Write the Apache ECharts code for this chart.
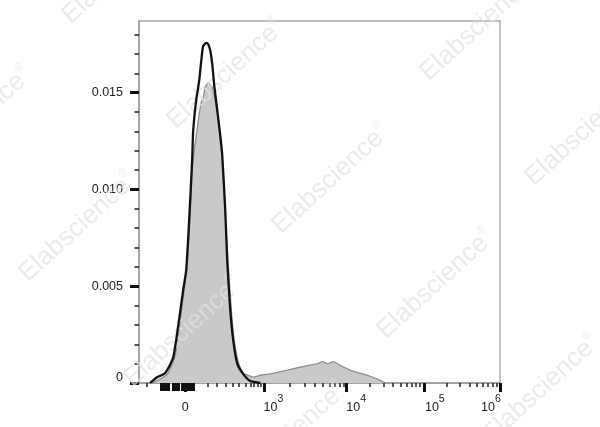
<!DOCTYPE html>
<html><head><meta charset="utf-8">
<script src="https://cdn.jsdelivr.net/npm/echarts@6/dist/echarts.min.js"></script>
<style>html,body{margin:0;padding:0;background:#fff}#c{width:600px;height:427px}</style>
</head><body><div id="c"></div>
<script>
// x values are in display units of the biexponential axis: 0 -> "0", 1 -> 10^3, ~2.05 -> 10^4, ~3.03 -> 10^5, 4 -> 10^6
const blackX = [-0.446,-0.357,-0.255,-0.153,-0.076,-0.025,0.013,0.051,0.089,0.102,0.140,0.178,0.204,0.229,0.268,0.293,0.318,0.344,0.369,0.408,0.446,0.471,0.510,0.535,0.573,0.611,0.662,0.739,0.828,0.955];
const blackY = [0,0.0003,0.0005,0.0013,0.0033,0.0048,0.0058,0.0084,0.0115,0.0130,0.0146,0.0156,0.0166,0.0174,0.01757,0.0175,0.0172,0.0165,0.0154,0.0141,0.0128,0.0118,0.0089,0.0063,0.0038,0.0022,0.0010,0.00046,0.0001,0];
const grayX = [-0.420,-0.318,-0.217,-0.127,-0.064,-0.013,0.025,0.064,0.089,0.115,0.166,0.204,0.229,0.255,0.293,0.318,0.344,0.382,0.408,0.446,0.471,0.510,0.548,0.586,0.624,0.675,0.739,0.803,0.866,0.955,1.121,1.338,1.554,1.682,1.745,1.809,1.885,1.975,2.140,2.318,2.446,2.548];
const grayY = [0,0.0002,0.0005,0.0014,0.0032,0.0048,0.0061,0.0086,0.0110,0.0120,0.0135,0.0145,0.0147,0.0153,0.0155,0.0154,0.0153,0.0146,0.0139,0.0125,0.0115,0.0087,0.0061,0.0038,0.0022,0.0011,0.0005,0.0004,0.0003,0.0004,0.0005,0.0007,0.0009,0.0010,0.0011,0.0010,0.0011,0.0009,0.0006,0.0004,0.0002,0];

const xMajorTicks = [0, 1.0, 2.051, 3.032, 4.0];
const xLabelPos = [0, 1.121, 2.172, 3.172, 3.885];
const xLabelText = ['{b|0}', '{b|10}{s|3}', '{b|10}{s|4}', '{b|10}{s|5}', '{b|10}{s|6}'];
const xMinorTicks = [-0.484, 0.293,0.408,0.510,0.599,0.675,0.764,0.828,0.866,0.917,0.955,
  1.334,1.516,1.643,1.745,1.834,1.898,1.962,2.013,
  2.344,2.522,2.637,2.739,2.815,2.879,2.930,2.981,
  3.325,3.490,3.618,3.707,3.783,3.847,3.911,3.955];
const xClusterTicks = [-0.305,-0.273,-0.241,-0.210,-0.152,-0.121,-0.089,-0.038,-0.006,0.025,0.070,0.102];

const yMajorTicks = [0, 0.005, 0.010, 0.015];
const yLabelPos = [0.0003, 0.005, 0.010, 0.015];
const yLabelText = ['0', '0.005', '0.010', '0.015'];
const yMinorTicks = [0.001,0.002,0.003,0.004,0.006,0.007,0.008,0.009,0.011,0.012,0.013,0.014,0.016,0.017,0.018];

const wmCenters = [[121,-31],[226,74],[331,179],[436,284],[541,389],[78,227],[-27,122],[183,332],[288,437],[479,26],[584,131]];

const FONT = 'Liberation Sans, Arial, sans-serif';
const xMin = -0.586, xMax = 4.0, yMin = 0, yMax = 0.0187;

function pairs(xs, ys){ return xs.map((x,i)=>[x, ys[i]]); }

const chart = echarts.init(document.getElementById('c'), null, {renderer:'canvas'});
const baseX = {type:'value', min:xMin, max:xMax, position:'bottom', splitLine:{show:false}};
const baseY = {type:'value', min:yMin, max:yMax, position:'left', splitLine:{show:false}};
chart.setOption({
  animation:false,
  backgroundColor:'#fff',
  grid:{left:139, right:100, top:21, bottom:44, show:true, borderColor:'#a8a8a8', borderWidth:1.3},
  xAxis:[
    Object.assign({}, baseX, {
      axisLine:{show:true, onZero:false, lineStyle:{color:'#999', width:1.5}},
      axisTick:{show:true, length:9, lineStyle:{color:'#111', width:3}, customValues:xMajorTicks},
      axisLabel:{show:true, margin:11, customValues:xLabelPos,
        formatter:(v,i)=>xLabelText[xLabelPos.indexOf(v)] || '',
        rich:{
          b:{fontSize:12.5, fontFamily:FONT, color:'#222', lineHeight:20, verticalAlign:'bottom'},
          s:{fontSize:10.5, fontFamily:FONT, color:'#222', lineHeight:20, verticalAlign:'top'}
        }}
    }),
    Object.assign({}, baseX, {
      axisLine:{show:false, onZero:false},
      axisTick:{show:true, length:4, lineStyle:{color:'#222', width:1.5}, customValues:xMinorTicks},
      axisLabel:{show:false}
    }),
    Object.assign({}, baseX, {
      axisLine:{show:false, onZero:false},
      axisTick:{show:true, length:8, lineStyle:{color:'#111', width:3}, customValues:xClusterTicks},
      axisLabel:{show:false}
    })
  ],
  yAxis:[
    Object.assign({}, baseY, {
      axisLine:{show:true, onZero:false, lineStyle:{color:'#999', width:1.5}},
      axisTick:{show:true, length:9, lineStyle:{color:'#111', width:3}, customValues:yMajorTicks},
      axisLabel:{show:true, margin:16, fontSize:12.5, fontFamily:FONT, color:'#222', customValues:yLabelPos,
        formatter:(v)=>yLabelText[yLabelPos.indexOf(v)] || ''}
    }),
    Object.assign({}, baseY, {
      axisLine:{show:false, onZero:false},
      axisTick:{show:true, length:4.5, lineStyle:{color:'#222', width:1.5}, customValues:yMinorTicks},
      axisLabel:{show:false}
    })
  ],
  graphic: wmCenters.map(c=>({
    type:'text', x:c[0], y:c[1], rotation:0.74, z:50, silent:true,
    style:{text:'{a|Elabscience}{r|®}', align:'center', verticalAlign:'middle',
      rich:{a:{fontSize:26, fontFamily:FONT, fill:'rgba(226,226,226,0.7)'},
            r:{fontSize:12, fontFamily:FONT, fill:'rgba(226,226,226,0.7)', verticalAlign:'top', lineHeight:30}}}
  })),
  series:[
    {type:'line', name:'control', data:pairs(grayX, grayY), xAxisIndex:0, yAxisIndex:0, showSymbol:false, symbol:'none', z:2, smooth:0.2,
      lineStyle:{color:'#8f8f8f', width:1.3}, areaStyle:{color:'#c9c9c9', opacity:1}},
    {type:'line', name:'sample', data:pairs(blackX, blackY), xAxisIndex:0, yAxisIndex:0, showSymbol:false, symbol:'none', z:100, smooth:0.2,
      lineStyle:{color:'#111', width:2.3}}
  ]
});
</script>
</body></html>
